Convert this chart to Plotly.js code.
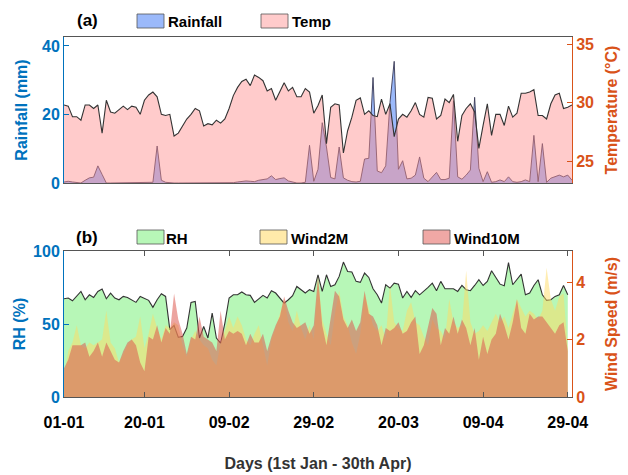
<!DOCTYPE html>
<html>
<head>
<meta charset="utf-8">
<script src="https://cdn.plot.ly/plotly-3.0.1.min.js"></script>
<style>body{margin:0;padding:0;background:#fff}#chart{width:628px;height:475px}</style>
</head>
<body>
<div id="chart"></div>
<script>
// ---------- data ----------
const tickVals = [1, 20, 40, 60, 80, 100, 120];
const tickLabels = ['01-01', '20-01', '09-02', '29-02', '20-03', '09-04', '29-04'];

const temp = [
 29.8, 29.7, 28.8, 28.8, 28.5, 29.8, 29.8, 29.5, 29.8, 27.4,
 30.2, 29.2, 29.1, 29.4, 29.7, 29.4, 29.7, 29.6, 29.0, 30.2,
 30.65, 30.9, 30.5, 29.0, 28.9, 29.0, 27.15, 27.4, 28.0, 28.6,
 29.0, 29.5, 29.3, 28.0, 28.2, 28.1, 28.5, 28.25, 28.6, 29.5,
 30.6, 31.3, 31.8, 32.0, 31.45, 32.35, 32.15, 31.87, 31.0, 31.2,
 30.2, 30.9, 31.7, 31.0, 31.3, 30.5, 30.5, 31.2, 30.9, 29.1,
 29.75, 30.65, 26.5, 29.6, 29.9, 29.8, 25.7, 27.6, 28.76, 30.2,
 30.4, 29.0, 29.3, 28.9, 28.8, 30.3, 29.0, 29.9, 27.1, 28.6,
 29.0, 28.76, 29.3, 30.0, 29.0, 28.76, 30.45, 30.37, 28.6, 28.9,
 30.3, 30.0, 30.7, 26.7, 28.9, 29.5, 29.9, 29.2, 26.1, 28.05,
 29.9, 27.2, 29.0, 29.0, 28.05, 29.7, 28.76, 29.1, 30.8, 30.8,
 30.9, 31.1, 28.9, 28.9, 28.6, 29.9, 30.65, 30.8, 29.5, 29.6, 29.8
];

const rainfall = [
 0.3, 0.5, 0.3, 0.1, 0, 0.8, 1.5, 1.7, 5.0, 2.5,
 0, 0, 0, 0, 0, 0, 0, 0, 0, 0,
 0, 0.2, 10.8, 0.8, 0.2, 0, 0, 0, 0, 0,
 0, 0, 0, 0, 0, 0, 0, 0, 0, 0,
 0.1, 0.3, 0.5, 0.6, 0.5, 0.4, 0.8, 0.9, 1.2, 2.1,
 1.0, 1.3, 1.5, 0.6, 0.2, 0, 0, 0.2, 11.0, 0.5,
 4.0, 17.6, 10.5, 1.6, 1.2, 10.5, 1.5, 0.8, 0.4, 0.3,
 0.5, 7.0, 7.2, 30.8, 3.5, 3.0, 5.0, 23.5, 35.5, 4.0,
 6.5, 1.2, 1.4, 2.3, 7.6, 1.4, 0.4, 1.8, 3.1, 1.0,
 1.0, 1.4, 24.0, 1.8, 1.1, 2.3, 3.8, 25.0, 4.3, 0.4,
 3.3, 0.2, 0.4, 0.9, 0.4, 1.8, 0.4, 0.2, 0.4, 0.9,
 0.4, 13.9, 0.4, 11.5, 0.2, 1.4, 1.8, 2.3, 1.8, 2.3, 0.8
];

const rh = [
 67.3, 67.8, 65.9, 68.9, 72.3, 66.6, 70.0, 68.2, 72.3, 73.9,
 67.3, 71.2, 67.8, 66.6, 68.9, 68.2, 66.6, 64.8, 68.9, 67.8,
 66.2, 61.4, 66.6, 70.7, 68.9, 46.1, 49.0, 40.9, 41.5, 47.2,
 64.8, 65.5, 40.4, 48.3, 40.4, 57.5, 40.4, 36.9, 50.6, 67.8,
 70.0, 70.0, 71.9, 70.0, 69.6, 64.8, 67.3, 69.6, 67.8, 72.8,
 71.2, 67.8, 64.3, 66.6, 69.4, 75.7, 73.5, 71.2, 73.5, 72.3,
 83.7, 72.3, 83.7, 75.7, 76.9, 82.6, 92.4, 86.0, 85.6, 79.2,
 78.5, 84.9, 81.9, 74.1, 70.0, 64.3, 76.9, 74.6, 78.0, 77.3,
 67.8, 72.3, 68.2, 72.8, 70.0, 72.3, 75.1, 78.0, 72.8, 79.2,
 74.1, 74.1, 74.1, 72.3, 76.4, 73.5, 72.8, 76.4, 80.3, 76.4,
 79.2, 86.5, 81.5, 77.3, 76.2, 92.0, 76.9, 80.3, 84.2, 70.0,
 71.2, 76.4, 80.3, 70.0, 66.2, 66.6, 68.9, 70.0, 76.4, 70.0
];

const wind2m = [
 0.7, 1.6, 1.9, 2.5, 1.8, 1.7, 1.9, 1.8, 1.9, 2.0,
 3.0, 1.9, 1.7, 1.2, 1.5, 1.8, 2.0, 2.1, 2.8, 1.7,
 2.2, 2.9, 2.4, 2.0, 2.5, 2.4, 2.6, 2.5, 1.8, 1.4,
 2.0, 2.3, 2.0, 1.8, 1.7, 1.3, 1.1, 1.9, 2.3, 2.8,
 2.4, 2.8, 2.5, 2.0, 1.8, 2.2, 2.5, 1.8, 1.1, 2.0,
 2.4, 2.9, 3.4, 2.6, 2.3, 3.0, 2.4, 2.0, 2.5, 2.0,
 4.1, 2.7, 2.2, 1.8, 2.9, 3.7, 2.8, 2.5, 1.9, 1.5,
 2.2, 3.6, 3.0, 2.5, 2.3, 2.5, 2.0, 3.9, 2.6, 2.4,
 2.3, 3.0, 3.3, 2.6, 2.5, 2.1, 1.8, 2.7, 2.4, 2.3,
 2.0, 3.4, 2.6, 2.4, 2.5, 4.4, 2.6, 2.2, 2.3, 2.5,
 2.3, 2.6, 2.9, 2.6, 2.8, 2.4, 2.9, 3.4, 3.1, 2.8,
 3.0, 2.9, 2.7, 3.0, 4.5, 3.4, 3.0, 3.5, 3.6, 1.7
];

const wind10m = [
 1.0, 1.3, 1.8, 1.8, 1.8, 1.9, 1.4, 1.6, 1.9, 1.4,
 1.9, 1.6, 1.3, 1.2, 1.6, 1.9, 2.0, 1.8, 1.2, 0.9,
 2.1, 2.0, 2.5, 1.9, 2.4, 2.2, 3.6, 2.7, 2.2, 1.5,
 2.1, 2.0, 2.8, 2.1, 2.0, 1.9, 1.6, 3.0, 2.0, 2.3,
 2.2, 2.3, 2.2, 1.8, 2.2, 1.9, 1.9, 2.2, 1.6, 2.1,
 2.5, 2.8, 3.5, 3.0, 2.6, 2.4, 2.5, 2.6, 2.2, 2.5,
 4.2, 2.5, 1.8, 2.8, 3.7, 3.5, 2.7, 2.4, 2.7, 2.3,
 2.6, 3.7, 2.9, 2.8, 2.5, 1.8, 2.4, 2.3, 2.4, 2.6,
 2.2, 2.3, 2.6, 2.8, 1.5, 1.8, 2.4, 3.1, 2.9, 1.8,
 2.4, 2.2, 2.8, 2.2, 2.7, 2.4, 1.8, 2.4, 1.3, 2.1,
 1.5, 2.0, 2.2, 2.9, 2.5, 2.0, 2.6, 3.4, 2.4, 2.2,
 2.9, 2.7, 2.8, 2.8, 2.6, 2.4, 2.2, 2.5, 2.6, 1.6
];

// day index (x positions)
const daysTop = temp.map((_, i) => i + 1);
const daysBot = rh.map((_, i) => i + 1);

// ---------- styles ----------
const BLUE = '#0072BD';
const ORANGE = '#D95319';
const FONT = 'Liberation Sans, Arial, sans-serif';
const C_RAIN = 'rgb(155,185,250)';
const C_TEMP = 'rgba(255,140,140,0.45)';
const C_TEMP_PATCH = 'rgb(255,203,203)';
const C_RH = 'rgb(183,247,183)';
const C_W2 = 'rgba(255,220,100,0.5)';
const C_W2_PATCH = 'rgb(255,234,170)';
const C_W10 = 'rgba(220,90,80,0.55)';
const C_W10_PATCH = 'rgb(240,168,165)';

const traces = [
  {x: daysTop, y: rainfall, name: 'Rainfall', type: 'scatter', mode: 'lines', fill: 'tozeroy',
   fillcolor: C_RAIN, line: {color: '#3a3a55', width: 0.9}, xaxis: 'x', yaxis: 'y'},
  {x: daysTop, y: temp, name: 'Temp', type: 'scatter', mode: 'lines', fill: 'tozeroy',
   fillcolor: C_TEMP, line: {color: '#333333', width: 1.1}, xaxis: 'x', yaxis: 'y2'},
  {x: daysBot, y: rh, name: 'RH', type: 'scatter', mode: 'lines', fill: 'tozeroy',
   fillcolor: C_RH, line: {color: '#333333', width: 1.1}, xaxis: 'x2', yaxis: 'y3'},
  {x: daysBot, y: wind2m, name: 'Wind2M', type: 'scatter', mode: 'lines', fill: 'tozeroy',
   fillcolor: C_W2, line: {color: 'rgba(0,0,0,0)', width: 0}, xaxis: 'x2', yaxis: 'y4'},
  {x: daysBot, y: wind10m, name: 'Wind10M', type: 'scatter', mode: 'lines', fill: 'tozeroy',
   fillcolor: C_W10, line: {color: 'rgba(0,0,0,0)', width: 0}, xaxis: 'x2', yaxis: 'y4'}
];

// paper helpers for legend decorations
const L = 64, R = 572, T = 37, B = 397;
const px = v => (v - L) / (R - L);
const py = v => (B - v) / (B - T);

function patch(x0, y0, color) {
  return {type: 'rect', xref: 'paper', yref: 'paper', x0: px(x0), x1: px(x0 + 27),
          y0: py(y0 + 14), y1: py(y0), fillcolor: color, line: {color: '#555', width: 0.8}};
}
function label(x, y, text, size, anchor) {
  return {xref: 'paper', yref: 'paper', x: px(x), y: py(y), text: text, showarrow: false,
          xanchor: anchor || 'left', yanchor: 'middle',
          font: {family: FONT, size: size || 15, color: '#000', weight: 'bold'}};
}

const axTitleFont = c => ({family: FONT, size: 16, color: c, weight: 'bold'});
const tickFont = c => ({family: FONT, size: 16, color: c, weight: 'bold'});

const layout = {
  width: 628, height: 475,
  margin: {l: L, r: 628 - R, t: T, b: 475 - B},
  paper_bgcolor: '#fff', plot_bgcolor: '#fff',
  showlegend: false,
  font: {family: FONT},
  xaxis: {domain: [0, 1], anchor: 'y', range: [1, 121], showticklabels: false, ticks: '',
          showline: true, mirror: true, linecolor: '#555', linewidth: 1, showgrid: false, zeroline: false},
  yaxis: {domain: [py(183), 1], anchor: 'x', range: [0, 42.6], tickvals: [0, 20, 40],
          ticks: 'inside', ticklen: 5, tickcolor: BLUE, showline: true, linecolor: BLUE, linewidth: 1,
          tickfont: tickFont(BLUE), showgrid: false, zeroline: false,
          title: {text: 'Rainfall (mm)', font: axTitleFont(BLUE), standoff: 10}},
  yaxis2: {overlaying: 'y', side: 'right', anchor: 'x', range: [23.14, 35.6], tickvals: [25, 30, 35],
          ticks: 'inside', ticklen: 5, tickcolor: ORANGE, showline: true, linecolor: ORANGE, linewidth: 1,
          tickfont: tickFont(ORANGE), showgrid: false, zeroline: false,
          title: {text: 'Temperature (°C)', font: axTitleFont(ORANGE), standoff: 12}},
  xaxis2: {domain: [0, 1], anchor: 'y3', range: [1, 121], tickvals: tickVals, ticktext: tickLabels,
          ticks: 'inside', ticklen: 5, tickcolor: '#555', showline: true, mirror: 'ticks',
          ticklabelstandoff: 11,
          linecolor: '#555', linewidth: 1, tickfont: tickFont('#000'), showgrid: false, zeroline: false,
          title: {text: 'Days (1st Jan - 30th Apr)', font: {family: FONT, size: 16, color: '#333', weight: 'bold'}, standoff: 27}},
  yaxis3: {domain: [0, py(251)], anchor: 'x2', range: [0, 100], tickvals: [0, 50, 100],
          ticks: 'inside', ticklen: 5, tickcolor: BLUE, showline: true, linecolor: BLUE, linewidth: 1,
          tickfont: tickFont(BLUE), showgrid: false, zeroline: false,
          title: {text: 'RH (%)', font: axTitleFont(BLUE), standoff: 3}},
  yaxis4: {overlaying: 'y3', side: 'right', anchor: 'x2', range: [0, 5.08], tickvals: [0, 2, 4],
          ticks: 'inside', ticklen: 5, tickcolor: ORANGE, showline: true, linecolor: ORANGE, linewidth: 1,
          tickfont: tickFont(ORANGE), showgrid: false, zeroline: false,
          title: {text: 'Wind Speed (m/s)', font: axTitleFont(ORANGE), standoff: 21}},
  shapes: [
    patch(137, 14, C_RAIN), patch(261, 14, C_TEMP_PATCH),
    patch(137, 230, C_RH), patch(260, 230, C_W2_PATCH), patch(423, 230, C_W10_PATCH)
  ],
  annotations: [
    label(87, 21, '(a)', 17, 'center'),
    label(166, 22, 'Rainfall', 15), label(290, 22, 'Temp', 15),
    label(87, 237, '(b)', 17, 'center'),
    label(164, 238, 'RH', 15), label(289, 238, 'Wind2M', 15), label(452, 238, 'Wind10M', 15)
  ]
};

Plotly.newPlot('chart', traces, layout, {displayModeBar: false, staticPlot: true});
</script>
</body>
</html>
